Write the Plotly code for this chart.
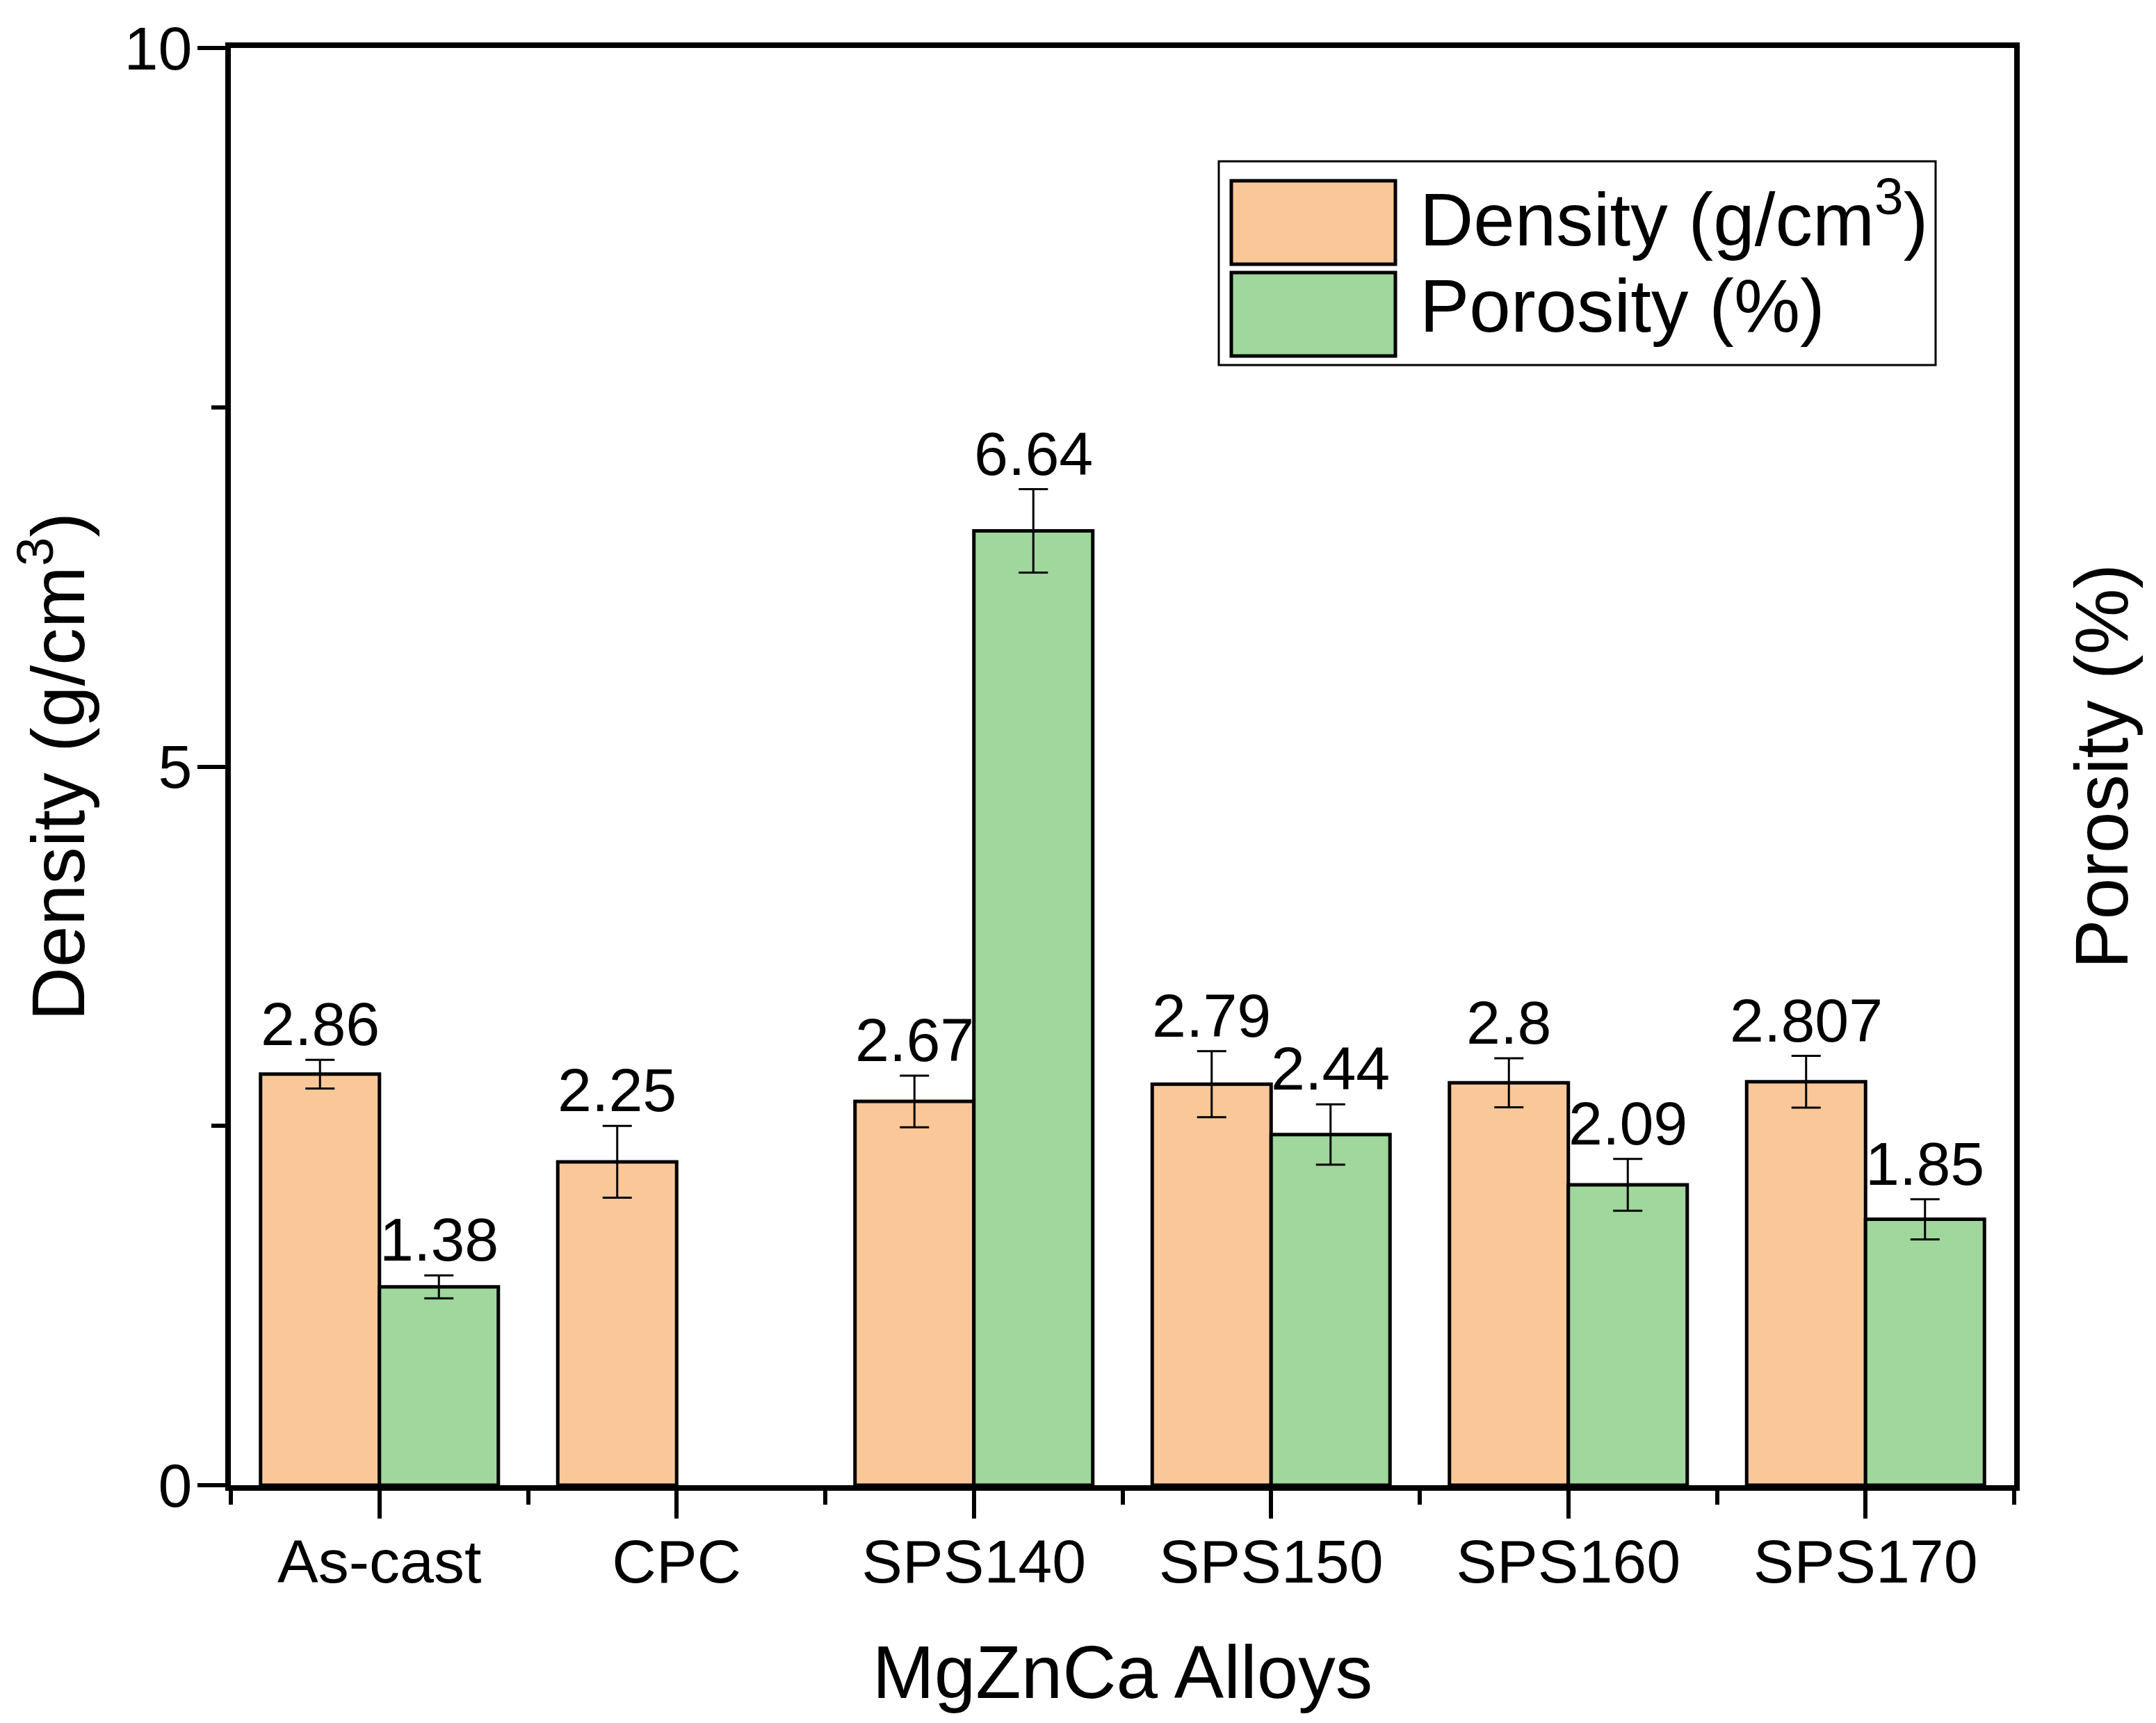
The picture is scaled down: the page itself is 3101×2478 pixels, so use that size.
import plotly.graph_objects as go

categories = ["As-cast", "CPC", "SPS140", "SPS150", "SPS160", "SPS170"]
density = [2.86, 2.25, 2.67, 2.79, 2.80, 2.807]
density_err = [0.10, 0.25, 0.18, 0.23, 0.17, 0.18]
density_labels = ["2.86", "2.25", "2.67", "2.79", "2.8", "2.807"]
porosity = [1.38, None, 6.64, 2.44, 2.09, 1.85]
porosity_err = [0.08, None, 0.29, 0.21, 0.18, 0.14]
porosity_labels = ["1.38", "", "6.64", "2.44", "2.09", "1.85"]

DENS_COLOR = "#FAC898"
PORO_COLOR = "#9FD79C"
FONT = "Liberation Sans, Arial, sans-serif"

# page body adds an 8px offset; compensate
OFF = 8
W, H = 3101 - OFF, 2478 - OFF
L, R, T, B = 332 - OFF, 204, 69 - OFF, 342

xs = list(range(len(categories)))

fig = go.Figure()
fig.add_trace(go.Bar(
    x=xs, y=density, name="Density (g/cm<sup>3</sup>)",
    marker=dict(color=DENS_COLOR, line=dict(color="black", width=5)),
    error_y=dict(type="data", array=density_err, color="black", thickness=3, width=21),
))
fig.add_trace(go.Bar(
    x=xs, y=porosity, name="Porosity (%)",
    marker=dict(color=PORO_COLOR, line=dict(color="black", width=5)),
    error_y=dict(type="data", array=[e if e is not None else 0 for e in porosity_err],
                 color="black", thickness=3, width=21),
))

annotations = []
offset = 0.2
for i, (v, e, t) in enumerate(zip(density, density_err, density_labels)):
    annotations.append(dict(x=i - offset, y=v + e, xref="x", yref="y", text=t,
                            showarrow=False, yanchor="bottom", yshift=0,
                            font=dict(family=FONT, size=88, color="black")))
for i, (v, e, t) in enumerate(zip(porosity, porosity_err, porosity_labels)):
    if v is None:
        continue
    annotations.append(dict(x=i + offset, y=v + e, xref="x", yref="y", text=t,
                            showarrow=False, yanchor="bottom", yshift=0,
                            font=dict(family=FONT, size=88, color="black")))

# helpers: page pixel -> paper coords
pw = 2897 - 332
ph = 2136 - 69
def px2paper_x(px):
    return (px - 332) / pw
def px2paper_y(py):
    return (2136 - py) / ph

annotations.append(dict(x=px2paper_x(3022), y=0.5, xref="paper", yref="paper",
                        text="Porosity (%)", textangle=-90, showarrow=False,
                        xanchor="center", yanchor="middle",
                        font=dict(family=FONT, size=107, color="black")))

# custom legend
shapes = []
shapes.append(dict(type="rect", xref="paper", yref="paper",
                   x0=px2paper_x(1753), x1=px2paper_x(2784),
                   y0=px2paper_y(525), y1=px2paper_y(232),
                   line=dict(color="black", width=3), fillcolor="white", layer="above"))
legend_items = [("Density (g/cm<sup>3</sup>)", DENS_COLOR, 260, 380),
                ("Porosity (%)", PORO_COLOR, 392, 512)]
for text, col, y0, y1 in legend_items:
    shapes.append(dict(type="rect", xref="paper", yref="paper",
                       x0=px2paper_x(1771), x1=px2paper_x(2007),
                       y0=px2paper_y(y1), y1=px2paper_y(y0),
                       line=dict(color="black", width=5), fillcolor=col, layer="above"))
    annotations.append(dict(x=px2paper_x(2040), y=px2paper_y((y0 + y1) / 2),
                            xref="paper", yref="paper", text=text, showarrow=False,
                            xanchor="left", yanchor="middle", yshift=12,
                            font=dict(family=FONT, size=107, color="black")))

fig.update_layout(
    width=W, height=H,
    margin=dict(l=L, r=R, t=T, b=B, pad=0),
    paper_bgcolor="white", plot_bgcolor="white",
    barmode="group", bargap=0.2, bargroupgap=0,
    showlegend=False,
    font=dict(family=FONT, color="black"),
    annotations=annotations, shapes=shapes,
    xaxis=dict(
        range=[-0.5, 5.5], tickmode="array", tickvals=xs, ticktext=categories,
        showgrid=False, zeroline=False,
        showline=True, linecolor="black", linewidth=8, mirror=True,
        ticks="outside", ticklen=40, tickwidth=6, tickcolor="black",
        ticklabelstandoff=-14,
        tickfont=dict(family=FONT, size=88, color="black"),
        minor=dict(tickmode="linear", tick0=-0.5, dtick=1, ticks="outside",
                   ticklen=20, tickwidth=6, tickcolor="black", showgrid=False),
        title=dict(text="MgZnCa Alloys", font=dict(family=FONT, size=107, color="black"),
                   standoff=76),
        automargin=False,
    ),
    yaxis=dict(
        range=[0, 10], tickmode="linear", tick0=0, dtick=5,
        showgrid=False, zeroline=False,
        showline=True, linecolor="black", linewidth=8, mirror=True,
        ticks="outside", ticklen=40, tickwidth=6, tickcolor="black",
        ticklabelstandoff=-10,
        tickfont=dict(family=FONT, size=88, color="black"),
        minor=dict(tickmode="linear", tick0=0, dtick=2.5, ticks="outside",
                   ticklen=20, tickwidth=6, tickcolor="black", showgrid=False),
        title=dict(text="Density (g/cm<sup>3</sup>)",
                   font=dict(family=FONT, size=107, color="black"), standoff=46),
        automargin=False,
    ),
)

fig.write_html("out.html")
